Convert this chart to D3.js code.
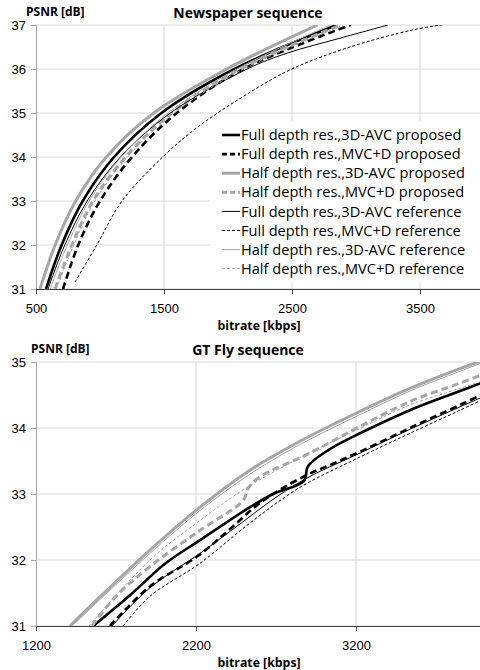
<!DOCTYPE html>
<html>
<head>
<meta charset="utf-8">
<script src="https://cdn.jsdelivr.net/npm/d3@7"></script>
<style>
	body { margin: 0; background: #fff; }
	svg { display: block; font-family: "Open Sans", sans-serif; }
</style>
</head>
<body>
<svg id="chart" width="480" height="670"></svg>
<script>
var seriesNames = [
	"Full depth res.,3D-AVC proposed",
	"Full depth res.,MVC+D proposed",
	"Half depth res.,3D-AVC proposed",
	"Half depth res.,MVC+D proposed",
	"Full depth res.,3D-AVC reference",
	"Full depth res.,MVC+D reference",
	"Half depth res.,3D-AVC reference",
	"Half depth res.,MVC+D reference"
];

// Newspaper sequence: bitrate [kbps] and PSNR [dB] per series
var newsRate = [
	[578, 700, 865, 1110, 1480, 2050, 2850],
	[711, 830, 1000, 1250, 1600, 2120, 2960],
	[531, 650, 810, 1050, 1420, 1990, 2700],
	[648, 780, 945, 1200, 1560, 2090, 2880],
	[594, 725, 900, 1160, 1550, 2150, 2461, 2875, 3250],
	[805, 975, 1172, 1490, 1750, 2094, 2484, 2953, 3445, 3711],
	[610, 745, 915, 1165, 1530, 2070, 2800],
	[660, 795, 960, 1215, 1580, 2120, 2900]
];
var newsPsnr = [
	[31, 32, 33, 34, 35, 36, 37],
	[31, 32, 33, 34, 35, 36, 37],
	[31, 32, 33, 34, 35, 36, 37],
	[31, 32, 33, 34, 35, 36, 37],
	[31, 32, 33, 34, 35, 36, 36.36, 36.7, 37],
	[31.16, 32, 33, 34, 34.65, 35.33, 35.98, 36.5, 36.89, 37.02],
	[31, 32, 33, 34, 35, 36, 37],
	[31, 32, 33, 34, 35, 36, 37]
];
var newsXTicks = [500, 1500, 2500, 3500];
var newsYTicks = [31, 32, 33, 34, 35, 36, 37];

// GT Fly sequence
var flyRate = [
	[1558, 1780, 2010, 2225, 2537, 2681, 2875, 2900, 3037, 3225, 3537, 3850, 4000],
	[1662, 1912, 2206, 2394, 2581, 2681, 2894, 3037, 3225, 3537, 3850, 4000],
	[1412, 1600, 1912, 2225, 2537, 2850, 3206, 3537, 3850, 4000],
	[1550, 1700, 1912, 2225, 2494, 2530, 2600, 2912, 3206, 3537, 3850, 4000],
	[1675, 1912, 2225, 2450, 2700, 2900, 3225, 3537, 3850, 4000],
	[1745, 1912, 2225, 2537, 2850, 3225, 3537, 3850, 4000],
	[1425, 1600, 1912, 2225, 2537, 2850, 3206, 3537, 3850, 4000],
	[1530, 1912, 2225, 2519, 2850, 3206, 3537, 3850, 4000]
];
var flyPsnr = [
	[31, 31.45, 31.95, 32.3, 32.8, 33.0, 33.2, 33.42, 33.68, 33.92, 34.27, 34.56, 34.7],
	[31, 31.6, 32.05, 32.43, 32.83, 33.0, 33.29, 33.44, 33.64, 34.0, 34.35, 34.52],
	[31, 31.44, 32.15, 32.8, 33.36, 33.8, 34.23, 34.6, 34.9, 35.03],
	[31, 31.45, 31.9, 32.45, 32.9, 33.1, 33.26, 33.62, 34.0, 34.4, 34.68, 34.82],
	[31, 31.58, 32.1, 32.5, 32.95, 33.25, 33.62, 33.98, 34.32, 34.48],
	[31, 31.45, 31.95, 32.56, 33.1, 33.56, 33.92, 34.27, 34.44],
	[31, 31.4, 32.1, 32.75, 33.3, 33.75, 34.18, 34.56, 34.86, 35.0],
	[31, 32.0, 32.6, 33.1, 33.55, 33.97, 34.35, 34.6, 34.72]
];
var flyXTicks = [1200, 2200, 3200];
var flyYTicks = [31, 32, 33, 34, 35];

// line looks, same order as seriesNames
var styles = [
	{ color: "#000", width: 2.6, dash: null },
	{ color: "#000", width: 2.6, dash: "7,4" },
	{ color: "#a6a6a6", width: 3, dash: null },
	{ color: "#a6a6a6", width: 3, dash: "7,4" },
	{ color: "#000", width: 1, dash: null },
	{ color: "#000", width: 1, dash: "3,2" },
	{ color: "#a6a6a6", width: 1, dash: null },
	{ color: "#a6a6a6", width: 1, dash: "3,2" }
];

var svg = d3.select("#chart");

function drawChart(opt) {
	var x = d3.scaleLinear().domain(opt.xDomain).range([opt.left, opt.right]);
	var y = d3.scaleLinear().domain(opt.yDomain).range([opt.bottom, opt.top]);
	var g = svg.append("g");

	// grid
	g.selectAll(".hgrid").data(opt.yTicks).enter().append("line")
		.attr("x1", opt.left).attr("x2", 480)
		.attr("y1", (d) => { return y(d); }).attr("y2", (d) => { return y(d); })
		.attr("stroke", "#d9d9d9").attr("stroke-width", 1);
	g.selectAll(".vgrid").data(opt.xTicks.slice(1)).enter().append("line")
		.attr("x1", (d) => { return x(d); }).attr("x2", (d) => { return x(d); })
		.attr("y1", opt.top).attr("y2", opt.bottom)
		.attr("stroke", "#d9d9d9").attr("stroke-width", 1);

	// series
	g.append("clipPath").attr("id", opt.id + "clip")
		.append("rect")
		.attr("x", opt.left).attr("y", opt.top)
		.attr("width", opt.right - opt.left).attr("height", opt.bottom - opt.top);

	var line = d3.line()
		.curve(d3.curveCatmullRom.alpha(0.5))
		.x((d) => { return x(d[0]); })
		.y((d) => { return y(d[1]); });

	var series = seriesNames.map((name, i) => {
		return { name: name, style: styles[i], values: d3.zip(opt.rate[i], opt.psnr[i]) };
	});

	g.append("g").attr("clip-path", "url(#" + opt.id + "clip)")
		.selectAll("path")
		.data(series)
		.enter().append("path")
			.attr("d", (d) => { return line(d.values); })
			.attr("fill", "none")
			.attr("stroke", (d) => { return d.style.color; })
			.attr("stroke-width", (d) => { return d.style.width; })
			.attr("stroke-dasharray", (d) => { return d.style.dash; });

	// axes
	var yAxis = g.append("g")
		.attr("transform", "translate(" + opt.left + ",0)")
		.call(d3.axisLeft(y).tickValues(opt.yTicks).tickSize(5).tickPadding(5).tickFormat(d3.format("d")));
	yAxis.select(".domain").attr("stroke", "#a6a6a6").attr("d", "M0.5," + opt.top + "V" + opt.bottom);
	yAxis.selectAll(".tick line").attr("stroke", "#a6a6a6");
	yAxis.selectAll(".tick text").style("font-size", "13px").attr("fill", "#000");

	var xAxis = g.append("g")
		.attr("transform", "translate(0," + opt.bottom + ")")
		.call(d3.axisBottom(x).tickValues(opt.xTicks).tickSize(5).tickPadding(10).tickFormat(d3.format("d")));
	xAxis.select(".domain").attr("stroke", "#404040").attr("d", "M" + opt.left + ",0.5H480");
	xAxis.selectAll(".tick line").attr("stroke", "#404040");
	xAxis.selectAll(".tick text").style("font-size", "13px").attr("fill", "#000");

	// titles
	g.append("text")
		.attr("x", 248).attr("y", opt.top - 7)
		.attr("text-anchor", "middle")
		.style("font-size", "14px").style("font-weight", "bold")
		.text(opt.title);
	g.append("text")
		.attr("x", opt.labelX).attr("y", opt.top - 9)
		.style("font-size", "12px").style("font-weight", "bold")
		.text("PSNR [dB]");
	g.append("text")
		.attr("x", 259).attr("y", opt.bottom + 41)
		.attr("text-anchor", "middle")
		.style("font-size", "12.3px").style("font-weight", "bold")
		.text("bitrate [kbps]");

	return g;
}

var newsChart = drawChart({
	id: "news", title: "Newspaper sequence",
	rate: newsRate, psnr: newsPsnr,
	xDomain: [500, 4000], yDomain: [31, 37],
	xTicks: newsXTicks, yTicks: newsYTicks,
	left: 36, right: 484, top: 25, bottom: 289, labelX: 26
});

drawChart({
	id: "fly", title: "GT Fly sequence",
	rate: flyRate, psnr: flyPsnr,
	xDomain: [1200, 4200], yDomain: [31, 35],
	xTicks: flyXTicks, yTicks: flyYTicks,
	left: 36, right: 516, top: 362, bottom: 626, labelX: 31
});

// legend in the Newspaper plot
var legend = newsChart.append("g");
legend.append("rect")
	.attr("x", 210).attr("y", 121).attr("width", 272).attr("height", 162)
	.attr("fill", "#fff");

var item = legend.selectAll(".item")
	.data(seriesNames)
	.enter().append("g")
		.attr("transform", (d, i) => { return "translate(0," + (135 + i * 19.1) + ")"; });

item.append("line")
	.attr("x1", 222).attr("x2", 240)
	.attr("stroke", (d, i) => { return styles[i].color; })
	.attr("stroke-width", (d, i) => { return styles[i].width; })
	.attr("stroke-dasharray", (d, i) => { return styles[i].dash ? (styles[i].width > 2 ? "5,3" : "3,2") : null; });

item.append("text")
	.attr("x", 241).attr("dy", "0.35em")
	.style("font-size", "14.6px")
	.text((d) => { return d; });
</script>
</body>
</html>
